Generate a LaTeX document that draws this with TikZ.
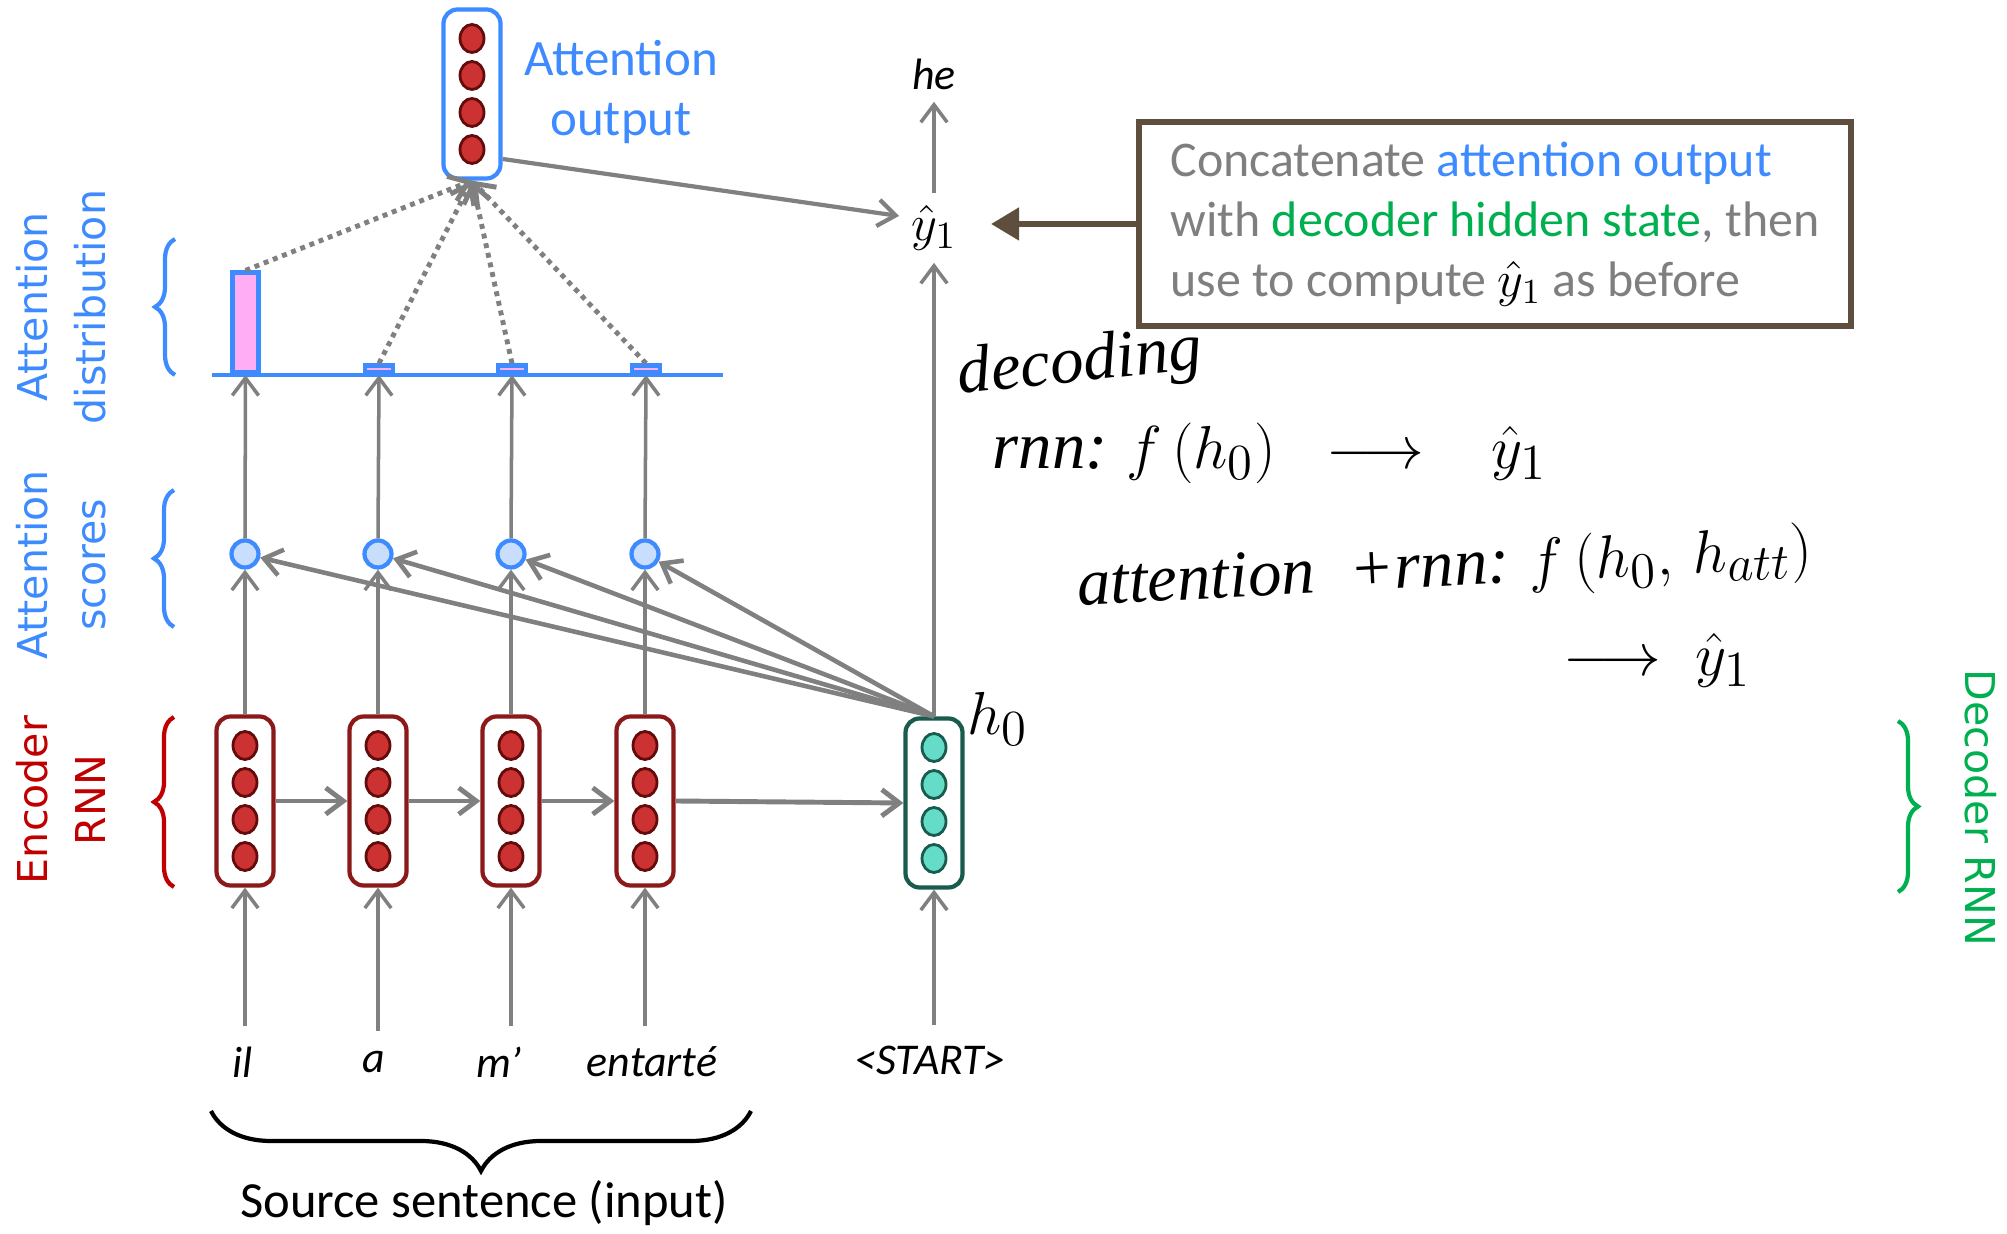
\documentclass[tikz,border=0pt]{standalone}
\usepackage{fontspec}
\setmainfont{Carlito}
\newfontfamily\sidefont{DejaVu Sans}
\newfontfamily\handfont{Liberation Serif}
\usetikzlibrary{arrows.meta,decorations.pathreplacing}

\definecolor{attblue}{RGB}{61,139,255}
\definecolor{encred}{RGB}{192,0,0}
\definecolor{boxred}{RGB}{140,25,25}
\definecolor{dotred}{RGB}{204,50,50}
\definecolor{dotdark}{RGB}{100,12,12}
\definecolor{decgreen}{RGB}{0,176,80}
\definecolor{boxteal}{RGB}{25,92,78}
\definecolor{dotteal}{RGB}{100,220,200}
\definecolor{scorefill}{RGB}{200,222,252}
\definecolor{barpink}{RGB}{255,173,245}
\definecolor{notebrown}{RGB}{94,78,62}
\definecolor{txtgray}{RGB}{127,127,127}

\begin{document}
\begin{tikzpicture}[
    >={Straight Barb[length=5pt,width=7.5pt]},
    arr/.style={->, gray, line width=1pt},
    dotarr/.style={->, gray, line width=1.4pt, dash pattern=on 1.4pt off 1.4pt},
    vec/.style={draw, rounded corners=4pt, fill=white, line width=1.2pt,
        minimum width=0.57cm, minimum height=1.69cm},
    reddot/.style={dotdark, fill=dotred, line width=0.8pt},
    tealdot/.style={boxteal, fill=dotteal, line width=0.8pt},
    score/.style={circle, draw=attblue, fill=scorefill, line width=1.2pt,
        minimum size=0.27cm, inner sep=0pt},
    bar/.style={draw=attblue, fill=barpink, line width=1.3pt, inner sep=0pt, anchor=south},
    word/.style={font=\itshape\fontsize{12.5}{15}\selectfont},
    side/.style={align=center, font=\sidefont\fontsize{11.7}{16.5}\selectfont},
    bracestyle/.style={decorate, line width=1.2pt},
    hand/.style={font=\handfont\itshape\fontsize{19}{23}\selectfont, inner sep=1pt}
]
\useasboundingbox (0,0) rectangle (20.07,12.33);

% attention output
\node[vec, draw=attblue] (attout) at (4.72,11.39) {};
\foreach \y in {10.835,11.205,11.575,11.945}
    \draw[reddot] (4.72,\y) ellipse (0.12 and 0.14);
\node[attblue, align=center, font=\fontsize{14.5}{17}\selectfont] (attlbl) at (6.21,11.41) {Attention\\output};

% encoder, scores
\foreach \x [count=\i] in {2.45,3.78,5.11,6.45}
{
    \node[vec, draw=boxred] (e\i) at (\x,4.32) {};
    \foreach \y in {3.765,4.135,4.505,4.875}
        \draw[reddot] (\x,\y) ellipse (0.12 and 0.14);
    \node[score] (s\i) at (\x,6.79) {};
    \draw[arr] (e\i.north) -- (s\i.south);
}

% decoder
\node[vec, draw=boxteal] (dec) at (9.34,4.30) {};
\foreach \y in {3.745,4.115,4.485,4.855}
    \draw[tealdot] (9.34,\y) ellipse (0.12 and 0.14);

\draw[arr, line width=1.4pt] (e1.east) -- (e2.west);
\draw[arr, line width=1.4pt] (e2.east) -- (e3.west);
\draw[arr, line width=1.4pt] (e3.east) -- (e4.west);
\draw[arr, line width=1.4pt] (e4.east) -- (dec.west);
\foreach \i in {1,...,4}
    \draw[arr, line width=1.3pt] (dec.north) -- (s\i);

% attention distribution
\draw[attblue, line width=1.3pt] (2.12,8.58) -- (7.23,8.58);
\node[bar, minimum width=0.26cm, minimum height=1.0cm] (b1) at (2.455,8.58) {};
\foreach \x [count=\i from 2] in {3.79,5.12,6.46}
    \node[bar, minimum width=0.28cm, minimum height=0.07cm] (b\i) at (\x,8.58) {};
\foreach \i in {1,...,4}
{
    \draw[arr] (s\i.north) -- (b\i.south);
    \draw[dotarr] (b\i.north) -- (attout.south);
}

% inputs
\foreach \w/\x [count=\i] in {il/2.43, a/3.74, m’/4.99, entarté/6.52}
{
    \node[word] (w\i) at (\x,1.71) {\w};
    \draw[arr] ([yshift=0.08cm]e\i.south |- w\i.north) -- (e\i.south);
}
\node[word] (wstart) at (9.30,1.73) {<START>};
\draw[arr] ([yshift=0.08cm]dec.south |- wstart.north) -- (dec.south);

% output side
\node[font=\fontsize{15}{18}\selectfont] (yhat) at (9.34,10.05) {$\hat{y}_1$};
\node[word] (he) at (9.34,11.59) {he};
\draw[arr] (dec.north) -- (yhat.south);
\draw[arr] (yhat.north) -- (he.south);
\draw[arr, line width=1.2pt] ([yshift=-0.65cm]attout.east) -- ([yshift=0.12cm]yhat.west);

\node[draw=notebrown, line width=1.6pt, text=txtgray, align=left, minimum width=7.12cm,
    minimum height=2.04cm, inner sep=0.2cm, font=\fontsize{14.2}{17}\selectfont]
    (note) at (14.95,10.09)
    {Concatenate \textcolor{attblue}{attention output}\\
     with \textcolor{decgreen}{decoder hidden state}, then\\
     use to compute \textcolor{black}{$\hat{y}_1$} as before};
\draw[-{Triangle[length=8pt,width=9pt]}, notebrown, line width=1.8pt, shorten >=0.22cm]
    (note.west) -- (note.west -| yhat.east);

% braces and side labels
\draw[bracestyle, attblue, decoration={brace, amplitude=0.2cm}] (1.75,8.58) -- (1.75,9.94);
\draw[bracestyle, attblue, decoration={brace, amplitude=0.2cm}] (1.74,6.06) -- (1.74,7.43);
\draw[bracestyle, encred, decoration={brace, amplitude=0.2cm}] (1.74,3.46) -- (1.74,5.16);
\draw[bracestyle, decgreen, decoration={brace, amplitude=0.2cm}] (18.98,5.12) -- (18.98,3.41);
\draw[bracestyle, black, decoration={brace, amplitude=0.6cm}] (7.51,1.22) -- (2.11,1.22);

\node[side, text=attblue, rotate=90] (lbldist) at (0.61,9.26) {Attention\\distribution};
\node[side, text=attblue, rotate=90] (lblscore) at (0.61,6.68) {Attention\\scores};
\node[side, text=encred, rotate=90] (lblenc) at (0.61,4.33) {Encoder\\RNN};
\node[side, text=decgreen, rotate=-90] (lbldec) at (19.81,4.25) {Decoder RNN};
\node[font=\fontsize{14.4}{17}\selectfont] (srclbl) at (4.84,0.30) {Source sentence (input)};

% handwritten notes
\node[hand, rotate=6] (hw1) at (10.80,8.68) {decoding};
\node[hand] (hw2) at (12.70,7.80) {rnn:\;$f\,(h_0)\;\;\longrightarrow\;\;\;\hat{y}_1$};
\node[hand, rotate=3] (hw3) at (14.45,6.62) {attention\; +rnn:\;$f\,(h_0,\,h_{att})$};
\node[hand] (hw4) at (16.57,5.73) {$\longrightarrow\;\hat{y}_1$};
\node[hand] (hw5) at (9.98,5.14) {$h_0$};
\end{tikzpicture}
\end{document}
